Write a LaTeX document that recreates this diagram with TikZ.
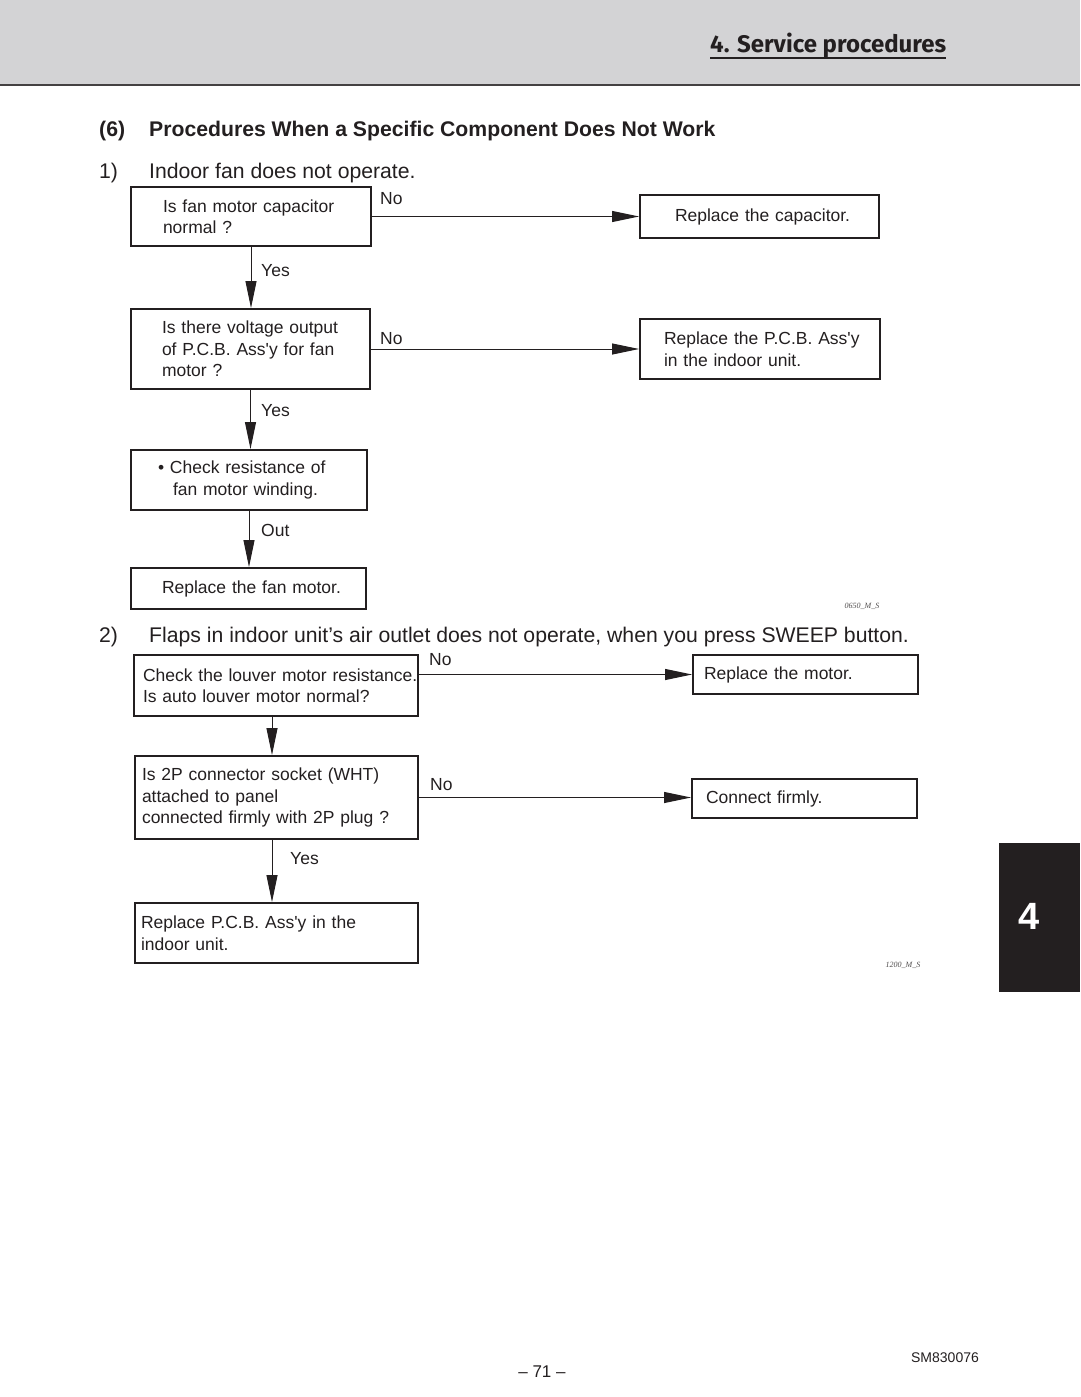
\documentclass[tikz,border=0pt]{standalone}
\usepackage{fontspec}
\setmainfont{Liberation Sans}
\newfontfamily\hdrfont{Fira Sans}
\newfontfamily\tagfont{Liberation Serif}
\usetikzlibrary{arrows.meta}
\definecolor{ink}{RGB}{35,31,32}
\definecolor{hdrgray}{RGB}{211,211,213}
\newcommand\apos{\textquotesingle}
\begin{document}
\begin{tikzpicture}[x=1pt,y=-1pt,
  box/.style={draw=ink, line width=1.9pt, inner ysep=0pt, align=left, text=ink,
    font=\fontsize{17.5}{21.5}\selectfont},
  conn/.style={draw=ink, line width=1pt, -{Triangle[length=27pt,width=11pt]}},
  lab/.style={anchor=west, inner sep=0pt, text=ink, font=\fontsize{17.5}{21.5}\selectfont},
  heada/.style={anchor=west, inner sep=0pt, text=ink, font=\fontsize{21.2}{25}\selectfont\bfseries},
  headb/.style={anchor=west, inner sep=0pt, text=ink, font=\fontsize{21.2}{25}\selectfont},
  tag/.style={inner sep=0pt, text=ink!80, font=\fontsize{8}{9}\selectfont\tagfont\itshape}
]
\useasboundingbox (0,0) rectangle (1080,1397);
% header band
\fill[hdrgray] (0,0) rectangle (1080,85);
\draw[ink!85, line width=2pt] (0,85) -- (1080,85);
\node[anchor=west, inner sep=0pt, text=ink, font=\fontsize{24}{28}\selectfont\hdrfont\bfseries] (hdr) at (710,45) {4. Service procedures};
\draw[ink, line width=1.6pt] ([yshift=-6pt]hdr.base west) -- ([yshift=-6pt]hdr.base east);

% headings
\node[heada] (h6) at (99,131) {(6)};
\node[heada] (h6t) at (149,131) {Procedures When a Specific Component Does Not Work};
\node[headb] (h1) at (99,173) {1)};
\node[headb] (h1t) at (149,173) {Indoor fan does not operate.};
\node[headb] (h2) at (99,637) {2)};
\node[headb] (h2t) at (149,637) {Flaps in indoor unit’s air outlet does not operate, when you press SWEEP button.};

% flow 1
\node[box, minimum height=59pt, text width=176pt, inner xsep=32pt] (b1) at (251,216.5)
  {\mbox{Is fan motor capacitor}\\normal ?};
\node[box, minimum height=43pt, text width=169pt, inner xsep=35pt] (r1) at (759.5,216.5)
  {\mbox{Replace the capacitor.}};
\node[box, minimum height=80pt, text width=177pt, inner xsep=31pt] (b2) at (250.5,349)
  {\mbox{Is there voltage output}\\\mbox{of P.C.B. Ass\apos y for fan}\\motor ?};
\node[box, minimum height=60pt, text width=192pt, inner xsep=24pt] (r2) at (760,349)
  {\mbox{Replace the P.C.B. Ass\apos y}\\\mbox{in the indoor unit.}};
\node[box, minimum height=60pt, text width=182pt, inner xsep=27pt] (b3) at (249,480)
  {\mbox{\textbullet\ Check resistance of}\\\mbox{\hspace*{15pt}fan motor winding.}};
\node[box, minimum height=41pt, text width=173pt, inner xsep=31pt] (b4) at (248.5,588.5)
  {\mbox{Replace the fan motor.}};

\draw[conn] (b1) -- (r1);
\draw[conn] (b1.south) -- (b1.south |- b2.north);
\draw[conn] (b2) -- (r2);
\draw[conn] (b2.south) -- (b2.south |- b3.north);
\draw[conn] (b3.south) -- (b3.south |- b4.north);
\node[lab] (no1) at (380,198.5) {No};
\node[lab] (yes1) at (261,270.5) {Yes};
\node[lab] (no2) at (380,338.5) {No};
\node[lab] (yes2) at (261,410.5) {Yes};
\node[lab] (out1) at (261,530.5) {Out};
\node[tag] (tag1) at (862,606) {0650\_M\_S};

% flow 2
\node[box, minimum height=61pt, text width=266pt, inner xsep=9pt] (c1) at (276,685.5)
  {\mbox{Check the louver motor resistance.}\\\mbox{Is auto louver motor normal?}};
\node[box, minimum height=39pt, text width=203pt, inner xsep=11pt] (d1) at (805.5,674.5)
  {\mbox{Replace the motor.}};
\node[box, minimum height=83pt, text width=269pt, inner xsep=7pt] (c2) at (276.5,797.5)
  {\mbox{Is 2P connector socket (WHT)}\\\mbox{attached to panel}\\\mbox{connected firmly with 2P plug ?}};
\node[box, minimum height=39pt, text width=197pt, inner xsep=14pt] (d2) at (804.5,798.5)
  {\mbox{Connect firmly.}};
\node[box, minimum height=60pt, text width=271pt, inner xsep=6pt] (c3) at (276.5,933)
  {\mbox{Replace P.C.B. Ass\apos y in the}\\\mbox{indoor unit.}};

\draw[conn] (d1.west -| c1.east) -- (d1.west);
\draw[conn] ([xshift=-4pt]c1.south) -- ([xshift=-4pt]c1.south |- c2.north);
\draw[conn] (c2.east) -- (c2.east -| d2.west);
\draw[conn] ([xshift=-4.5pt]c2.south) -- ([xshift=-4.5pt]c2.south |- c3.north);
\node[lab] (no3) at (429,659.5) {No};
\node[lab] (no4) at (430,784.5) {No};
\node[lab] (yes3) at (290,858.5) {Yes};
\node[tag] (tag2) at (903,965) {1200\_M\_S};

% side tab
\fill[ink] (999,843) rectangle (1080,992);
\node[inner sep=0pt, text=white, font=\fontsize{38}{40}\selectfont\bfseries] (tab) at (1029,916) {4};

% footer
\node[inner sep=0pt, text=ink, font=\fontsize{17}{20}\selectfont] (pg) at (542,1372) {– 71 –};
\node[inner sep=0pt, text=ink, font=\fontsize{14}{17}\selectfont] (doc) at (945,1358) {SM830076};
\end{tikzpicture}
\end{document}
